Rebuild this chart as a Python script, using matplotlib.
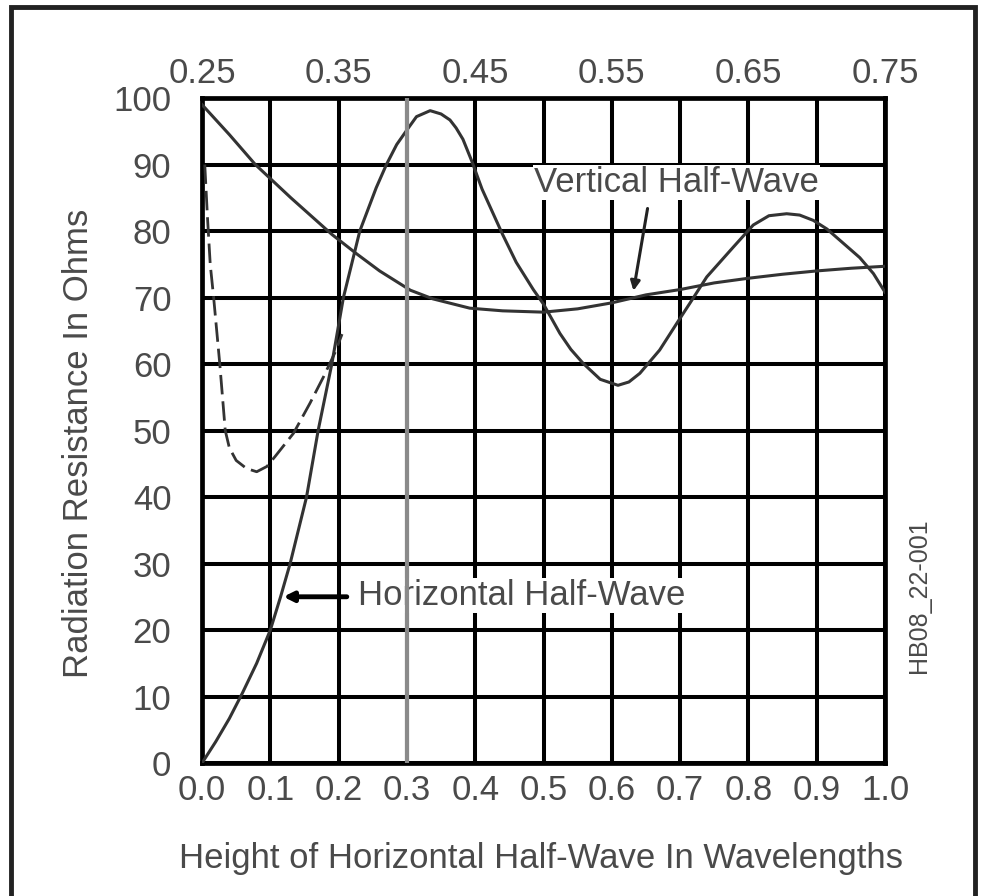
import matplotlib
matplotlib.use("Agg")
import matplotlib.pyplot as plt
from matplotlib.patches import Rectangle

plt.rcParams['font.family'] = ['Liberation Sans', 'DejaVu Sans']

# height of the horizontal half-wave above ground, in wavelengths
h_horiz = [0.0, 0.02, 0.04, 0.059, 0.08, 0.1, 0.115, 0.129, 0.153, 0.17, 0.19,
           0.207, 0.231, 0.255, 0.27, 0.285, 0.3, 0.314, 0.334, 0.35, 0.363,
           0.372, 0.382, 0.395, 0.41, 0.44, 0.46, 0.485, 0.5, 0.524, 0.54,
           0.558, 0.583, 0.609, 0.625, 0.641, 0.67, 0.695, 0.714, 0.739, 0.778,
           0.807, 0.83, 0.856, 0.875, 0.895, 0.915, 0.934, 0.963, 0.983, 1.0]
r_horiz = [0, 3.2, 6.7, 10.5, 15, 20, 25, 30, 40, 50, 60,
           70, 80, 86.5, 90, 93, 95.2, 97.2, 98.1, 97.6, 96.7,
           95.5, 93.8, 90.5, 86.3, 79.5, 75.3, 71.2, 69.0, 64.6, 62.2,
           60.1, 57.7, 56.8, 57.3, 58.6, 62.1, 66.1, 69.1, 73.1, 77.6,
           80.9, 82.3, 82.6, 82.4, 81.6, 80.3, 78.6, 76.0, 73.6, 70.8]

# horizontal half-wave over real ground (low heights)
h_ground = [0.004, 0.008, 0.012, 0.017, 0.026, 0.034, 0.04, 0.05, 0.065, 0.08,
            0.095, 0.107, 0.134, 0.158, 0.178, 0.195, 0.205]
r_ground = [90, 82, 75, 70, 60, 50, 47.4, 45.5, 44.3, 43.8,
            44.6, 46.1, 49.6, 54.1, 58.1, 61.8, 64.5]

# vertical half-wave, plotted against the same axis (top scale = 0.25 + 0.5 h)
h_vert = [0.0, 0.04, 0.078, 0.13, 0.19, 0.226, 0.26, 0.305, 0.338, 0.392,
          0.44, 0.5, 0.55, 0.6, 0.65, 0.7, 0.75, 0.8, 0.85, 0.9, 0.95, 1.0]
r_vert = [99, 94.5, 90, 85, 79.5, 76.6, 74, 71.1, 69.8, 68.4,
          68.0, 67.8, 68.3, 69.2, 70.4, 71.2, 72.2, 72.9, 73.5, 74.0, 74.4, 74.7]

x_ticks = [0.0, 0.1, 0.2, 0.3, 0.4, 0.5, 0.6, 0.7, 0.8, 0.9, 1.0]
top_ticks = [0.25, 0.35, 0.45, 0.55, 0.65, 0.75]
y_ticks = [0, 10, 20, 30, 40, 50, 60, 70, 80, 90, 100]

txt = '#4a4a4a'
curve = '#333333'

fig = plt.figure(figsize=(9.86, 8.96), dpi=100)
ax = fig.add_axes([0.2049, 0.1484, 0.6927, 0.7422])

ax.set_xlim(0, 1)
ax.set_ylim(0, 100)
ax.set_xticks(x_ticks)
ax.set_yticks(y_ticks)
ax.set_xticklabels([f'{v:.1f}' for v in x_ticks])
ax.set_yticklabels([str(v) for v in y_ticks])
ax.tick_params(axis='both', length=0, labelsize=25, labelcolor=txt)
ax.tick_params(axis='x', pad=8)
ax.tick_params(axis='y', pad=22)
ax.grid(True, color='black', lw=2.9, zorder=1)
ax.set_axisbelow(True)
for s in ax.spines.values():
    s.set_linewidth(3.4)
    s.set_color('black')

# top scale for the vertical antenna
sec = ax.secondary_xaxis('top', functions=(lambda x: 0.25 + 0.5 * x,
                                          lambda v: (v - 0.25) * 2))
sec.set_xticks(top_ticks)
sec.set_xticklabels([f'{v:.2f}' for v in top_ticks])
sec.tick_params(length=0, labelsize=25, labelcolor=txt, pad=6)
sec.spines['top'].set_visible(False)

ax.axvline(0.3, color='#8a8a8a', lw=3.0, zorder=5)

ax.plot(h_vert, r_vert, color=curve, lw=2.2, zorder=3)
ax.plot(h_horiz, r_horiz, color=curve, lw=2.2, zorder=3)
ax.plot(h_ground, r_ground, color=curve, lw=2.0, ls=(0, (7, 2.5)), zorder=3)

ax.set_xlabel('Height of Horizontal Half-Wave In Wavelengths', fontsize=25, color=txt)
ax.set_ylabel('Radiation Resistance In Ohms', fontsize=25, color=txt)
ax.xaxis.set_label_coords(0.496, -0.119)
ax.yaxis.set_label_coords(-0.157, 0.48)

box = dict(facecolor='white', edgecolor='none', pad=1)
ax.text(0.228, 25.2, 'Horizontal Half-Wave', fontsize=25, color=txt,
        va='center', ha='left', bbox=box, zorder=4)
ax.annotate('', xy=(0.115, 25), xytext=(0.216, 25),
            arrowprops=dict(arrowstyle='-|>', color='black', lw=3.5,
                            mutation_scale=14), zorder=4)
ax.text(0.486, 87.3, 'Vertical Half-Wave', fontsize=25, color=txt,
        va='center', ha='left', bbox=box, zorder=4)
ax.annotate('', xy=(0.631, 70.6), xytext=(0.653, 83.8),
            arrowprops=dict(arrowstyle='-|>', color='#222222', lw=2.2,
                            mutation_scale=14), zorder=4)

fig.text(0.9325, 0.335, 'HB08_22-001', rotation=90, fontsize=18, color=txt,
         ha='center', va='center')

# frame around the whole figure
fig.patches.append(Rectangle((0.011, -0.02), 0.978, 1.012, transform=fig.transFigure,
                             fill=False, edgecolor='#222222', lw=3.5))

fig.savefig('out.png', dpi=100)
plt.close(fig)
